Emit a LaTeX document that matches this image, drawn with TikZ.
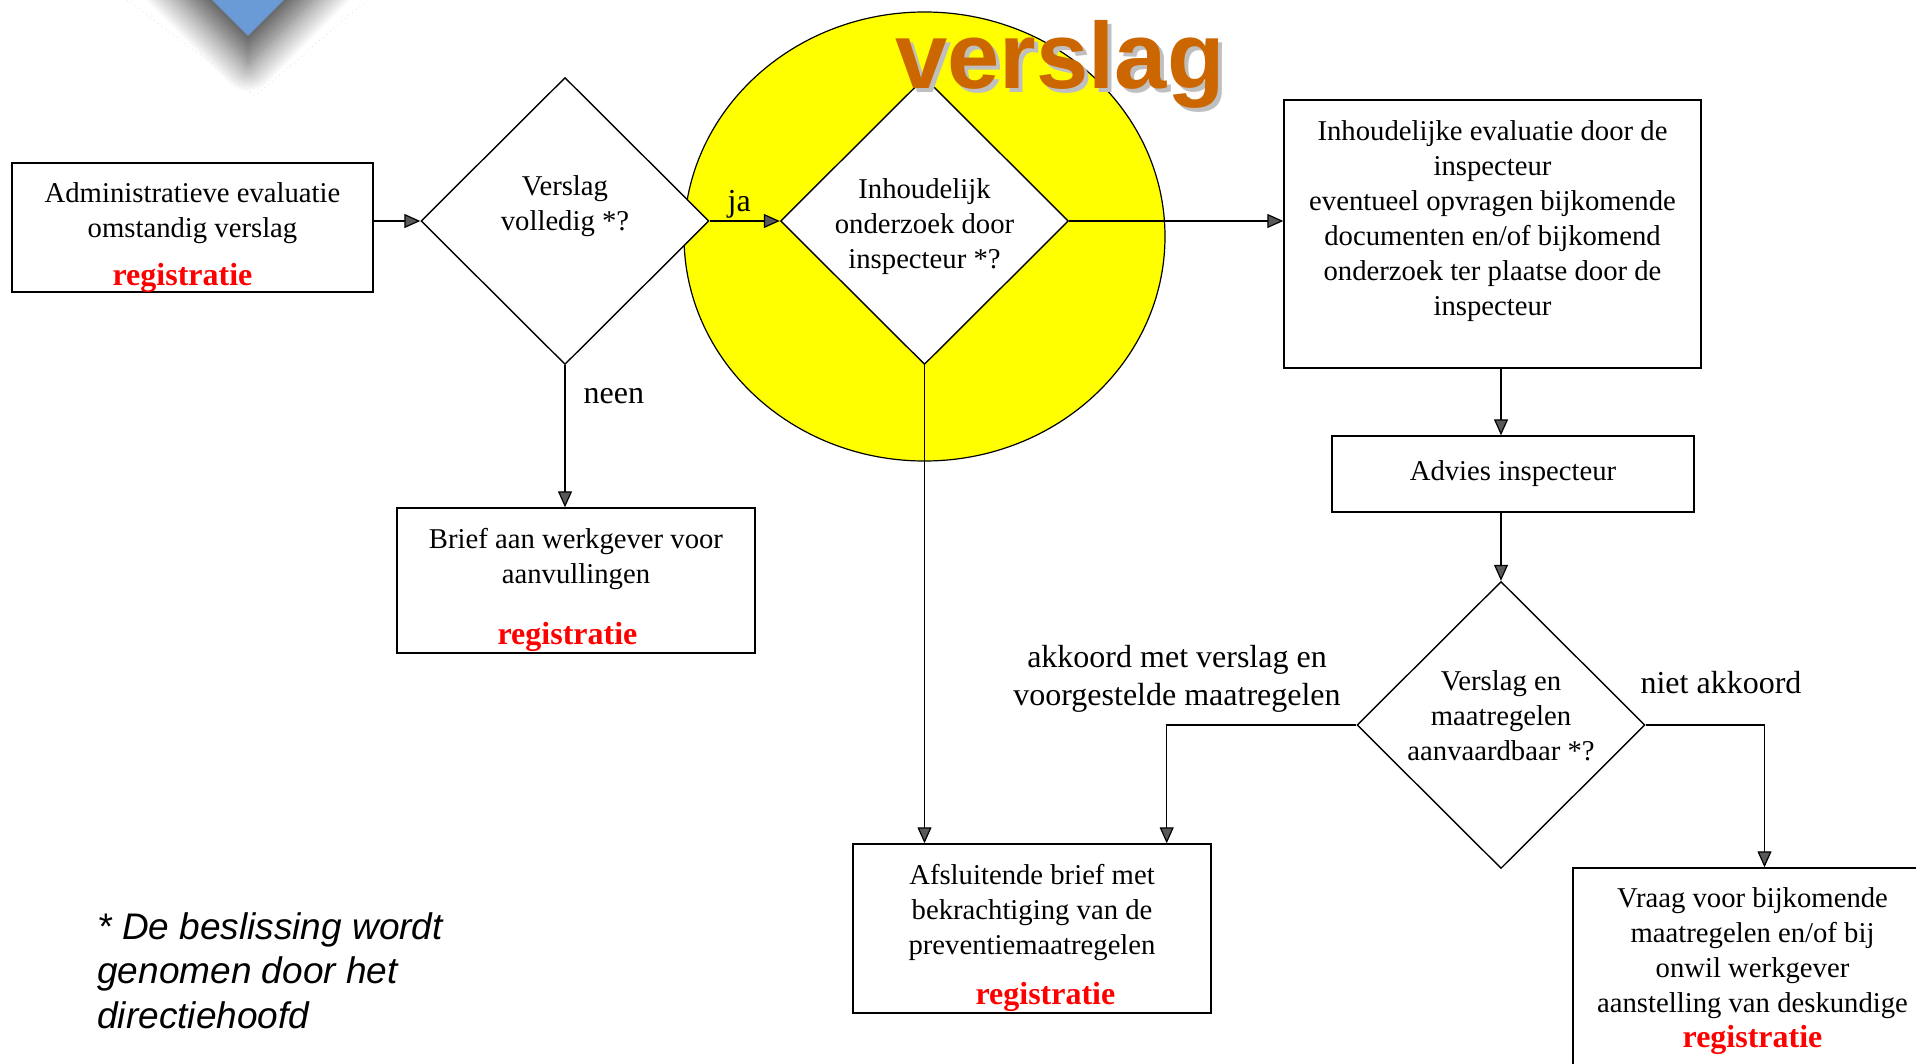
\documentclass[tikz,border=0pt]{standalone}
\usepackage{fontspec}
\setmainfont{Liberation Serif}
\newfontfamily\notefont{Liberation Sans}
\newfontfamily\titlefont{Liberation Sans}
\usetikzlibrary{arrows.meta, positioning, shapes.geometric, shadows.blur}
\definecolor{flowblue}{HTML}{6A9BD7}
\definecolor{ringyellow}{HTML}{FFFF00}
\definecolor{titleorange}{HTML}{CC6600}
\definecolor{titleshade}{HTML}{BFBFBF}
\definecolor{regred}{HTML}{FF0000}
\newcommand{\bodysize}{\fontsize{14.35}{17.5}\selectfont}
\newcommand{\labelsize}{\fontsize{16}{19}\selectfont}
\newcommand{\regtext}{{\fontsize{16}{17.5}\selectfont\bfseries\color{regred}registratie}}

\begin{document}
\begin{tikzpicture}[
    x=0.5pt, y=-0.5pt,
    box/.style={draw, rectangle, line width=0.7pt, align=center, font=\bodysize, inner sep=-3pt},
    dec/.style={draw, diamond, aspect=1, line width=0.7pt, fill=white, align=center, font=\bodysize,
                inner sep=-3pt, minimum width=144pt, minimum height=143.5pt},
    lbl/.style={font=\labelsize, inner sep=1pt, align=center},
    title/.style={font=\titlefont\fontsize{47}{50}\selectfont\bfseries, anchor=base west, inner sep=0pt},
    arrow/.style={-{Triangle[length=8pt, width=7pt]}, line width=0.6pt},
]
    \useasboundingbox (0,0) rectangle (1916,1064);
    \clip (0,0) rectangle (1916,1064);

    % Blue corner shape
    \fill[flowblue, blur shadow={shadow xshift=0pt, shadow yshift=-14pt, shadow blur radius=14pt,
                                 shadow blur steps=30, shadow opacity=70}]
        (248,36) -- (118,-94) -- (248,-224) -- (378,-94) -- cycle;
    \draw[gray!25, dotted] (127,0) -- (255,96) -- (367,0);

    % Yellow ring
    \node[draw, ellipse, fill=ringyellow, line width=0.6pt, minimum width=240.5pt, minimum height=224.5pt] (ring) at (924.5,236.5) {};

    % Boxes
    \node[box, minimum width=180.5pt, minimum height=64.5pt] (adm) at (192.5,227.5)
        {\mbox{}\\[2.5pt]Administratieve evaluatie\\omstandig verslag\\[6.5pt]\regtext\kern10pt};
    \node[box, minimum width=179pt, minimum height=72.5pt] (brief) at (576,580.5)
        {\mbox{}\\[2.5pt]Brief aan werkgever voor\\aanvullingen\\[13pt]\regtext\kern8.5pt};
    \node[box, minimum width=208.5pt, minimum height=134pt] (eval) at (1492.5,234)
        {Inhoudelijke evaluatie door de\\inspecteur\\eventueel opvragen bijkomende\\documenten en/of bijkomend\\onderzoek ter plaatse door de\\inspecteur\\[-1.4pt]\mbox{}};
    \node[box, minimum width=181pt, minimum height=38pt] (adv) at (1513,474) {Advies inspecteur};
    \node[box, minimum width=179pt, minimum height=84.5pt] (afsl) at (1032,928.5)
        {\mbox{}\\[2.5pt]Afsluitende brief met\\bekrachtiging van de\\preventiemaatregelen\\[7.5pt]\kern13.4pt\regtext};
    \node[box, minimum width=179.5pt, minimum height=103pt] (vraag) at (1752.5,971)
        {Vraag voor bijkomende\\maatregelen en/of bij\\onwil werkgever\\aanstelling van deskundige\\\regtext};

    % Decisions
    \node[dec] (vol) at (565,221) {Verslag\\volledig *?\\\mbox{}};
    \node[dec] (inh) at (924.5,221) {\mbox{}\\[-1.5pt]Inhoudelijk\\onderzoek door\\inspecteur *?};
    \node[dec] (aanv) at (1501,725) {Verslag en\\maatregelen\\aanvaardbaar *?\\[-8.5pt]\mbox{}};

    % Title
    \node[title, text=titleshade] (ttlshade) at (899,93) {verslag};
    \node[title, text=titleorange] (ttl) at (895,89) {verslag};

    % Flow arrows
    \draw[arrow] (adm.east |- vol) -- (vol.west);
    \draw[arrow] (vol.east) -- node[lbl, above, pos=0.42] {ja} (inh.west);
    \draw[arrow] (vol.south) -- node[lbl, right=8pt, pos=0.215] {neen} (vol.south |- brief.north);
    \draw[arrow] (inh.east) -- (inh.east -| eval.west);
    \draw[arrow] (inh.south) -- (inh.south |- afsl.north);
    \draw[arrow] (eval.south -| aanv) -- (adv.north -| aanv);
    \draw[arrow] (adv.south -| aanv) -- (aanv.north);
    \draw[arrow] (aanv.west) -| ([xshift=-22.5pt]afsl.north east);
    \draw[arrow] (aanv.east) -| ([xshift=6pt]vraag.north);

    % Branch labels
    \node[lbl] (akk) at (1177,679) {akkoord met verslag en\\voorgestelde maatregelen};
    \node[lbl] (niet) at (1721,683) {niet akkoord};

    % Footnote
    \node[font=\notefont\itshape\fontsize{18.5}{22.3}\selectfont, align=left, anchor=north west, inner sep=0pt] (note)
        at (97,912) {* De beslissing wordt\\genomen door het\\directiehoofd};
\end{tikzpicture}
\end{document}
